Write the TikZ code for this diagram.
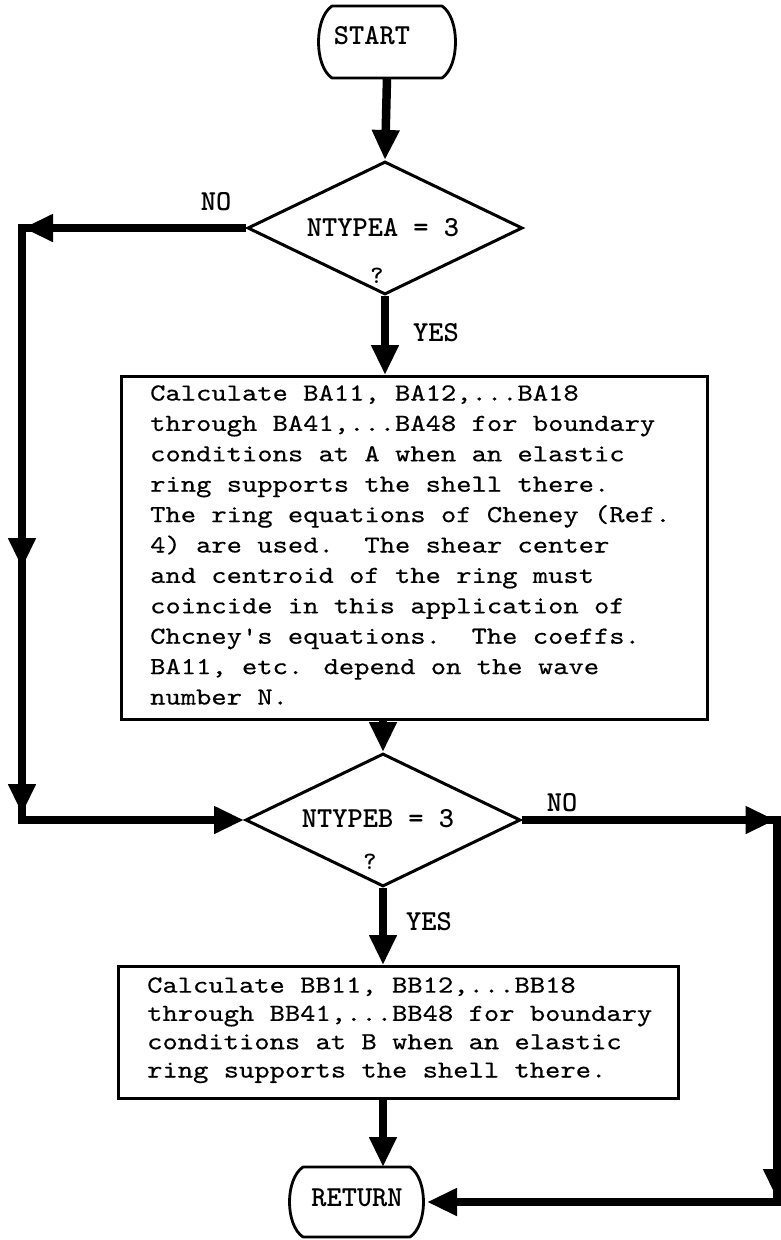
\documentclass[tikz,border=0pt]{standalone}
\usepackage{fontspec}
\usetikzlibrary{arrows.meta,shapes.geometric,decorations.markings}
\newfontfamily\typewriter{lmmono10-regular.otf}[FakeStretch=1.19,FakeBold=0.4]
\newfontfamily\labelface{lmmonolt10-bold.otf}
\begin{document}
\begin{tikzpicture}[x=1pt,y=-1pt,
  bighead/.tip={Triangle[length=30pt,width=26pt]},
  flow/.style={line width=8.5pt, line join=miter, -{bighead}},
  outline/.style={draw, line width=2.8pt},
  tag/.style={font=\labelface\fontsize{29}{31}\selectfont, inner sep=0pt},
  smalltag/.style={font=\labelface\fontsize{25}{27}\selectfont, inner sep=0pt},
  bodyA/.style={font=\typewriter\fontsize{24.5}{30.4}\selectfont, inner sep=0pt, anchor=base west, align=left},
  bodyB/.style={font=\typewriter\fontsize{24.5}{28.3}\selectfont, inner sep=0pt, anchor=base west, align=left},
  decision/.style={diamond, draw, line width=3pt, minimum width=275pt, minimum height=133pt, inner sep=0pt},
  terminal/.style={minimum width=#1, minimum height=72pt, inner sep=0pt, outer sep=0pt},
  rim/.style={line width=2.8pt, line join=round},
]
\fill[white] (0,0) rectangle (781,1240);
\useasboundingbox (0,0) rectangle (781,1240);

% ---- terminals ----
\node[terminal=110pt] (start) at (387,42) {};
\draw[rim] (start.north west) -- (start.north east)
  .. controls +(18,12) and +(18,-12) .. (start.south east)
  -- (start.south west)
  .. controls +(-18,-12) and +(-18,12) .. cycle;
\node[tag] (startText) at (372,36) {START};

\node[terminal=107pt, minimum height=70pt] (ret) at (356.5,1202) {};
\draw[rim] (ret.north west) -- (ret.north east)
  .. controls +(18,12) and +(18,-12) .. (ret.south east)
  -- (ret.south west)
  .. controls +(-18,-12) and +(-18,12) .. cycle;
\node[tag] (retText) at (357,1198) {RETURN};

% ---- decisions ----
\node[decision] (dA) at (385,228) {};
\node[tag] (qA) at (383,228) {NTYPEA = 3};
\node[smalltag] (markA) at (377,276) {?};

\node[decision] (dB) at (383,820) {};
\node[tag] (qB) at (378,819) {NTYPEB = 3};
\node[smalltag] (markB) at (370,862) {?};

% ---- process boxes ----
\node[outline, minimum width=586pt, minimum height=343pt, anchor=north west, inner sep=0pt] (bA) at (120,375) {};
% the base anchor of a multi-line node sits on its last line
\node[bodyA] (txA) at (150,704.5) {Calculate BA11, BA12,...BA18\\
through BA41,...BA48 for boundary\\
conditions at A when an elastic\\
ring supports the shell there.\\
The ring equations of Cheney (Ref.\\
4) are used.\ \ The shear center\\
and centroid of the ring must\\
coincide in this application of\\
Chcney's equations.\ \ The coeffs.\\
BA11, etc. depend on the wave\\
number N.};

\node[outline, minimum width=560pt, minimum height=132pt, anchor=north west, inner sep=0pt] (bB) at (117,965) {};
\node[bodyB] (txB) at (147,1077.5) {Calculate BB11, BB12,...BB18\\
through BB41,...BB48 for boundary\\
conditions at B when an elastic\\
ring supports the shell there.};

% ---- branch labels ----
\node[tag] (noA) at (216,202) {NO};
\node[tag] (yesA) at (436,333) {YES};
\node[tag] (noB) at (562,803) {NO};
\node[tag] (yesB) at (429,922) {YES};

% ---- lanes for the bypass lines ----
\coordinate (westlane) at (22,0);
\coordinate (eastlane) at (777,0);

% ---- main flow ----
\draw[flow] (start.south) -- (dA.north);
\draw[flow] (dA.south) -- (dA.south |- bA.north);
\draw[flow] (bA.south -| dB.north) -- (dB.north);
\draw[flow] (dB.south) -- (dB.south |- bB.north);
\draw[flow] (bB.south -| dB.south) -- (dB.south |- ret.north);

% ---- NO branch of the first test ----
\draw[flow, postaction={decorate}, decoration={markings,
    mark=at position 223pt with {\arrow{bighead}},
    mark=at position 564pt with {\arrow{bighead}},
    mark=at position 810pt with {\arrow{bighead}}}]
  (dA.west) -- (westlane |- dA.west) -- (westlane |- dB.west) -- (dB.west);

% ---- NO branch of the second test ----
\draw[flow, postaction={decorate}, decoration={markings,
    mark=at position 253.5pt with {\arrow{bighead}},
    mark=at position 634pt with {\arrow{bighead}}}]
  (dB.east) -- (eastlane |- dB.east) -- (eastlane |- ret.east) -- ([xshift=17pt]ret.east);
\end{tikzpicture}
\end{document}
